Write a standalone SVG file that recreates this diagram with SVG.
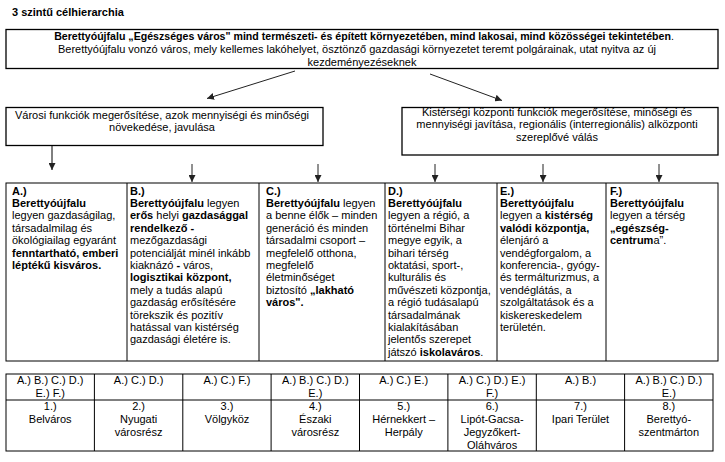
<svg xmlns="http://www.w3.org/2000/svg" width="725" height="462" viewBox="0 0 725 462">
<defs>
<marker id="ah" viewBox="0 0 8 8" refX="8" refY="4" markerWidth="7" markerHeight="7" markerUnits="userSpaceOnUse" orient="auto">
<path d="M0,0 L8,4 L0,8 z" fill="#222"/>
</marker>
<style>
text{font-family:"Liberation Sans",Arial,sans-serif;font-size:11px;fill:#000}
.b{font-weight:bold}
.c{text-anchor:middle}
.box{fill:#fff;stroke:#000;stroke-width:1.3}
.grid{fill:none;stroke:#000;stroke-width:1}
.arr{stroke:#222;stroke-width:1;fill:none;marker-end:url(#ah)}
</style>
</defs>
<rect width="725" height="462" fill="#fff"/>
<text x="12" y="16" class="b">3 szintű célhierarchia</text>

<g id="top">
<rect class="box" x="6" y="29.5" width="712" height="39"/>
<text x="364" y="40.3" class="c" style="font-size:10.6px"><tspan class="b">Berettyóújfalu „Egészséges város" mind természeti- és épített környezetében, mind lakosai, mind közösségei tekintetében</tspan>.</text>
<text x="357" y="52.9" class="c">Berettyóújfalu vonzó város, mely kellemes lakóhelyet, ösztönző gazdasági környezetet teremt polgárainak, utat nyitva az új</text>
<text x="362" y="65.6" class="c">kezdeményezéseknek</text>
</g>

<g id="left">
<rect class="box" x="6" y="107.5" width="317" height="38"/>
<text x="162" y="118.6" class="c">Városi funkciók megerősítése, azok mennyiségi és minőségi</text>
<text x="162" y="131.3" class="c">növekedése, javulása</text>
</g>

<g id="right">
<rect class="box" x="402" y="107.5" width="316" height="47.5"/>
<text x="557" y="116" class="c">Kistérségi központi funkciók megerősítése, minőségi és</text>
<text x="557" y="128.3" class="c">mennyiségi javítása, regionális (interregionális) alközponti</text>
<text x="557" y="140.6" class="c">szereplővé válás</text>
</g>

<g id="connectors">
<line class="arr" x1="295" y1="71" x2="207" y2="98.5"/>
<line class="arr" x1="430" y1="74" x2="502" y2="100.5"/>
<line class="arr" x1="52" y1="146" x2="52" y2="170" style="stroke:#000"/>
<line class="arr" x1="192" y1="164" x2="192" y2="182"/>
<line class="arr" x1="318" y1="164" x2="318" y2="182"/>
<line class="arr" x1="435" y1="164" x2="435" y2="182"/>
<line class="arr" x1="543" y1="164" x2="543" y2="182"/>
<line class="arr" x1="659" y1="164" x2="659" y2="182"/>
</g>

<g id="goals">
<rect class="grid" x="6" y="183" width="712" height="178" stroke-width="1.3"/>
<line class="grid" x1="127" y1="183" x2="127" y2="361"/>
<line class="grid" x1="259" y1="183" x2="259" y2="361"/>
<line class="grid" x1="385" y1="183" x2="385" y2="361"/>
<line class="grid" x1="497" y1="183" x2="497" y2="361"/>
<line class="grid" x1="606" y1="183" x2="606" y2="361"/>
</g>

<g id="goal-a">
<text x="12" y="194.5" class="b">A.)</text>
<text x="12" y="206.9" class="b">Berettyóújfalu</text>
<text x="12" y="219.3">legyen gazdaságilag,</text>
<text x="12" y="231.7">társadalmilag és</text>
<text x="12" y="244.1">ökológiailag egyaránt</text>
<text x="12" y="256.5" class="b">fenntartható, emberi</text>
<text x="12" y="268.9" class="b">léptékű kisváros.</text>
</g>

<g id="goal-b">
<text x="130" y="194.5" class="b">B.)</text>
<text x="130" y="206.9"><tspan class="b">Berettyóújfalu</tspan> legyen</text>
<text x="130" y="219.3"><tspan class="b">erős</tspan> helyi <tspan class="b">gazdasággal</tspan></text>
<text x="130" y="231.7" class="b">rendelkező -</text>
<text x="130" y="244.1">mezőgazdasági</text>
<text x="130" y="256.5">potenciálját minél inkább</text>
<text x="130" y="268.9">kiaknázó <tspan class="b">-</tspan> város,</text>
<text x="130" y="281.3" class="b">logisztikai központ,</text>
<text x="130" y="293.7">mely a tudás alapú</text>
<text x="130" y="306.1">gazdaság erősítésére</text>
<text x="130" y="318.5">törekszik és pozitív</text>
<text x="130" y="330.9">hatással van kistérség</text>
<text x="130" y="343.3">gazdasági életére is.</text>
</g>

<g id="goal-c">
<text x="266" y="194.5" class="b">C.)</text>
<text x="266" y="206.9"><tspan class="b">Berettyóújfalu</tspan> legyen</text>
<text x="266" y="219.3">a benne élők – minden</text>
<text x="266" y="231.7">generáció és minden</text>
<text x="266" y="244.1">társadalmi csoport –</text>
<text x="266" y="256.5">megfelelő otthona,</text>
<text x="266" y="268.9">megfelelő</text>
<text x="266" y="281.3">életminőséget</text>
<text x="266" y="293.7">biztosító <tspan class="b">„lakható</tspan></text>
<text x="266" y="306.1" class="b">város".</text>
</g>

<g id="goal-d">
<text x="388" y="194.5" class="b">D.)</text>
<text x="388" y="206.9" class="b">Berettyóújfalu</text>
<text x="388" y="219.3">legyen a régió, a</text>
<text x="388" y="231.7">történelmi Bihar</text>
<text x="388" y="244.1">megye egyik, a</text>
<text x="388" y="256.5">bihari térség</text>
<text x="388" y="268.9">oktatási, sport-,</text>
<text x="388" y="281.3">kulturális és</text>
<text x="388" y="293.7">művészeti központja,</text>
<text x="388" y="306.1">a régió tudásalapú</text>
<text x="388" y="318.5">társadalmának</text>
<text x="388" y="330.9">kialakításában</text>
<text x="388" y="343.3">jelentős szerepet</text>
<text x="388" y="355.7">játszó <tspan class="b">iskolaváros</tspan>.</text>
</g>

<g id="goal-e">
<text x="500" y="194.5" class="b">E.)</text>
<text x="500" y="206.9" class="b">Berettyóújfalu</text>
<text x="500" y="219.3">legyen a <tspan class="b">kistérség</tspan></text>
<text x="500" y="231.7" class="b">valódi központja,</text>
<text x="500" y="244.1">élenjáró a</text>
<text x="500" y="256.5">vendégforgalom, a</text>
<text x="500" y="268.9">konferencia-, gyógy-</text>
<text x="500" y="281.3">és termálturizmus, a</text>
<text x="500" y="293.7">vendéglátás, a</text>
<text x="500" y="306.1">szolgáltatások és a</text>
<text x="500" y="318.5">kiskereskedelem</text>
<text x="500" y="330.9">területén.</text>
</g>

<g id="goal-f">
<text x="610" y="194.5" class="b">F.)</text>
<text x="610" y="206.9" class="b">Berettyóújfalu</text>
<text x="610" y="219.3">legyen a térség</text>
<text x="610" y="231.7" class="b">„egészség-</text>
<text x="610" y="244.1"><tspan class="b">centrum</tspan>a”.</text>
</g>

<g id="areas">
<rect class="grid" x="6" y="374" width="707" height="77" stroke-width="1.3"/>
<line class="grid" x1="6" y1="400" x2="713" y2="400"/>
<line class="grid" x1="94.4" y1="374" x2="94.4" y2="451"/>
<line class="grid" x1="182.8" y1="374" x2="182.8" y2="451"/>
<line class="grid" x1="271.1" y1="374" x2="271.1" y2="451"/>
<line class="grid" x1="359.5" y1="374" x2="359.5" y2="451"/>
<line class="grid" x1="447.9" y1="374" x2="447.9" y2="451"/>
<line class="grid" x1="536.3" y1="374" x2="536.3" y2="451"/>
<line class="grid" x1="624.6" y1="374" x2="624.6" y2="451"/>
</g>

<g id="area-1">
<text x="50.2" y="384" class="c">A.) B.) C.) D.)</text>
<text x="50.2" y="397" class="c">E.) F.)</text>
<text x="50.2" y="409.5" class="c">1.)</text>
<text x="50.2" y="422.5" class="c">Belváros</text>
</g>
<g id="area-2">
<text x="138.6" y="384" class="c">A.) C.) D.)</text>
<text x="138.6" y="409.5" class="c">2.)</text>
<text x="138.6" y="422.5" class="c">Nyugati</text>
<text x="138.6" y="435.5" class="c">városrész</text>
</g>
<g id="area-3">
<text x="227" y="384" class="c">A.) C.) F.)</text>
<text x="227" y="409.5" class="c">3.)</text>
<text x="227" y="422.5" class="c">Völgyköz</text>
</g>
<g id="area-4">
<text x="315.3" y="384" class="c">A.) B.) C.) D.)</text>
<text x="315.3" y="397" class="c">E.)</text>
<text x="315.3" y="409.5" class="c">4.)</text>
<text x="315.3" y="422.5" class="c">Északi</text>
<text x="315.3" y="435.5" class="c">városrész</text>
</g>
<g id="area-5">
<text x="403.7" y="384" class="c">A.) C.) E.)</text>
<text x="403.7" y="409.5" class="c">5.)</text>
<text x="403.7" y="422.5" class="c">Hérnekkert –</text>
<text x="403.7" y="435.5" class="c">Herpály</text>
</g>
<g id="area-6">
<text x="492.1" y="384" class="c">A.) C.) D.) E.)</text>
<text x="492.1" y="397" class="c">F.)</text>
<text x="492.1" y="409.5" class="c">6.)</text>
<text x="492.1" y="422.5" class="c">Lipót-Gacsa-</text>
<text x="492.1" y="435.5" class="c">Jegyzőkert-</text>
<text x="492.1" y="448.5" class="c">Oláhváros</text>
</g>
<g id="area-7">
<text x="580.5" y="384" class="c">A.) B.)</text>
<text x="580.5" y="409.5" class="c">7.)</text>
<text x="580.5" y="422.5" class="c">Ipari Terület</text>
</g>
<g id="area-8">
<text x="668.8" y="384" class="c">A.) B.) C.) D.)</text>
<text x="668.8" y="397" class="c">E.)</text>
<text x="668.8" y="409.5" class="c">8.)</text>
<text x="668.8" y="422.5" class="c">Berettyó-</text>
<text x="668.8" y="435.5" class="c">szentmárton</text>
</g>
</svg>
